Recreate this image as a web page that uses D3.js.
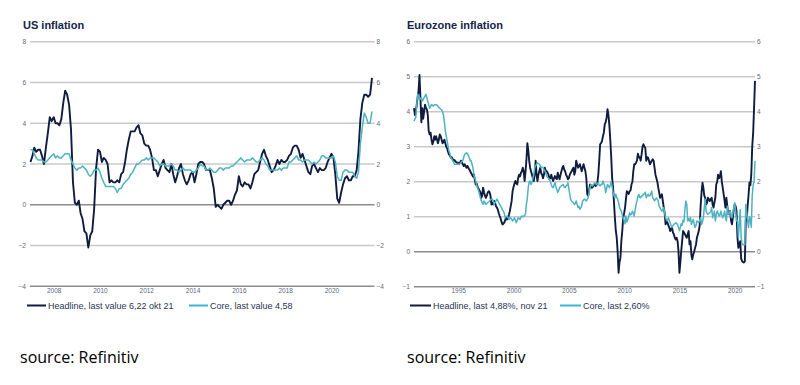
<!DOCTYPE html>
<html>
<head>
<meta charset="utf-8">
<script src="https://cdn.jsdelivr.net/npm/d3@7"></script>
<style>
  html, body { margin: 0; padding: 0; background: #fff; }
  svg { display: block; }
</style>
</head>
<body>
<svg id="chart" width="800" height="385"></svg>
<script>
// ---------------- DATA ----------------
// US CPI, monthly YoY %, Jan 2007 .. Oct 2021
const usStart = [2007, 0];
const usHeadline = [
  2.1, 2.4, 2.8, 2.6, 2.7, 2.7, 2.4, 2.0, 2.8, 3.5, 4.3, 4.1,
  4.3, 4.0, 4.0, 3.9, 4.2, 5.0, 5.6, 5.4, 4.9, 3.7, 1.1, 0.1,
  0.0, 0.2, -0.4, -0.7, -1.3, -1.4, -2.1, -1.5, -1.3, -0.2, 1.8, 2.7,
  2.6, 2.1, 2.3, 2.2, 2.0, 1.1, 1.2, 1.1, 1.1, 1.2, 1.1, 1.5,
  1.6, 2.1, 2.7, 3.2, 3.6, 3.6, 3.6, 3.8, 3.9, 3.5, 3.4, 3.0,
  2.9, 2.9, 2.7, 2.3, 1.7, 1.7, 1.4, 1.7, 2.0, 2.2, 1.8, 1.7,
  1.6, 2.0, 1.5, 1.1, 1.4, 1.8, 2.0, 1.5, 1.2, 1.0, 1.2, 1.5,
  1.6, 1.1, 1.5, 2.0, 2.1, 2.1, 2.0, 1.7, 1.7, 1.7, 1.3, 0.8,
  -0.1, 0.0, -0.1, -0.2, 0.0, 0.1, 0.2, 0.2, 0.0, 0.2, 0.5, 0.7,
  1.4, 1.0, 0.9, 1.1, 1.0, 1.0, 0.8, 1.1, 1.5, 1.6, 1.7, 2.1,
  2.5, 2.7, 2.4, 2.2, 1.9, 1.6, 1.7, 1.9, 2.2, 2.0, 2.2, 2.1,
  2.1, 2.2, 2.4, 2.5, 2.8, 2.9, 2.9, 2.7, 2.3, 2.5, 2.2, 1.9,
  1.6, 1.5, 1.9, 2.0, 1.8, 1.6, 1.8, 1.7, 1.7, 1.8, 2.1, 2.3,
  2.5, 2.3, 1.5, 0.3, 0.1, 0.6, 1.0, 1.3, 1.4, 1.2, 1.2, 1.4,
  1.4, 1.7, 2.6, 4.2, 5.0, 5.4, 5.4, 5.3, 5.4, 6.22
];
const usCore = [
  2.7, 2.7, 2.5, 2.3, 2.2, 2.2, 2.2, 2.1, 2.1, 2.2, 2.3, 2.4,
  2.5, 2.3, 2.4, 2.3, 2.3, 2.4, 2.5, 2.5, 2.5, 2.2, 2.0, 1.8,
  1.7, 1.8, 1.8, 1.9, 1.8, 1.7, 1.5, 1.4, 1.5, 1.7, 1.7, 1.8,
  1.6, 1.3, 1.1, 0.9, 0.9, 0.9, 0.9, 0.9, 0.8, 0.6, 0.8, 0.8,
  1.0, 1.1, 1.2, 1.3, 1.5, 1.6, 1.8, 2.0, 2.0, 2.1, 2.2, 2.2,
  2.3, 2.2, 2.3, 2.3, 2.3, 2.2, 2.1, 1.9, 2.0, 2.0, 1.9, 1.9,
  1.9, 2.0, 1.9, 1.7, 1.7, 1.6, 1.7, 1.8, 1.7, 1.7, 1.7, 1.7,
  1.6, 1.6, 1.7, 1.8, 2.0, 1.9, 1.9, 1.7, 1.7, 1.8, 1.7, 1.6,
  1.6, 1.7, 1.8, 1.8, 1.7, 1.8, 1.8, 1.8, 1.9, 1.9, 2.0, 2.1,
  2.2, 2.3, 2.2, 2.1, 2.2, 2.2, 2.2, 2.3, 2.2, 2.1, 2.1, 2.2,
  2.3, 2.2, 2.0, 1.9, 1.7, 1.7, 1.7, 1.7, 1.7, 1.8, 1.7, 1.8,
  1.8, 1.8, 2.1, 2.1, 2.2, 2.3, 2.4, 2.2, 2.2, 2.1, 2.2, 2.2,
  2.2, 2.1, 2.0, 2.1, 2.0, 2.1, 2.2, 2.4, 2.4, 2.3, 2.3, 2.3,
  2.3, 2.4, 2.1, 1.4, 1.2, 1.2, 1.6, 1.7, 1.7, 1.6, 1.6, 1.6,
  1.4, 1.3, 1.6, 3.0, 3.8, 4.5, 4.3, 4.0, 4.0, 4.58
];
const usYTicks = [-4, -2, 0, 2, 4, 6, 8];
const usXTicks = [2008, 2010, 2012, 2014, 2016, 2018, 2020];

// Eurozone HICP, monthly YoY %, Jan 1991 .. Nov 2021
const ezStart = [1991, 0];
const ezHeadline = [
  4.1, 3.9, 4.0, 4.2, 4.4, 4.6, 5.05, 4.4, 3.7, 4.1, 3.8, 4.0,
  4.2, 4.1, 4.07, 3.9, 3.45, 3.35, 3.4, 3.2, 3.07, 3.15, 3.3, 3.2,
  3.3, 3.2, 3.1, 3.2, 3.35, 3.3, 3.2, 3.1, 3.15, 3.2, 3.1, 3.0,
  2.95, 2.85, 2.78, 2.75, 2.69, 2.7, 2.65, 2.6, 2.62, 2.58, 2.55, 2.54,
  2.54, 2.5, 2.55, 2.6, 2.55, 2.5, 2.45, 2.5, 2.45, 2.4, 2.45, 2.4,
  2.35, 2.3, 2.25, 2.2, 2.15, 2.2, 2.05, 1.92, 1.95, 1.85, 1.8, 1.75,
  1.7, 1.54, 1.6, 1.83, 1.7, 1.6, 1.54, 1.6, 1.69, 1.73, 1.7, 1.6,
  1.35, 1.4, 1.35, 1.45, 1.4, 1.3, 1.26, 1.2, 1.1, 1.02, 0.95, 0.85,
  0.78, 0.8, 0.83, 0.9, 0.97, 0.92, 0.95, 1.05, 1.16, 1.3, 1.45, 1.73,
  1.85, 1.95, 2.02, 1.95, 1.92, 2.1, 2.2, 2.15, 2.25, 2.3, 2.4, 2.3,
  2.02, 2.3, 2.6, 3.1, 2.9, 2.6, 2.4, 2.3, 2.2, 2.1, 2.02, 2.2,
  2.6, 2.2, 2.02, 2.2, 2.3, 2.4, 2.25, 2.2, 2.1, 2.2, 2.4, 2.3,
  2.3, 2.25, 2.2, 2.07, 2.1, 2.2, 2.1, 2.02, 2.1, 2.16, 2.1, 2.07,
  2.26, 2.15, 2.07, 2.2, 2.3, 2.4, 2.45, 2.35, 2.3, 2.2, 2.15, 2.07,
  2.1, 2.2, 2.25, 2.3, 2.35, 2.4, 2.2, 2.3, 2.6, 2.5, 2.4, 2.45,
  2.5, 2.4, 2.3, 2.4, 2.5, 2.4, 2.3, 2.1, 1.64, 1.6, 1.75, 1.92,
  1.85, 1.83, 1.85, 1.9, 1.92, 1.88, 1.9, 1.97, 2.2, 2.6, 3.07, 3.1,
  3.16, 3.3, 3.4, 3.64, 3.7, 3.83, 4.07, 3.9, 3.6, 3.2, 2.69, 2.1,
  1.83, 1.4, 0.97, 0.6, 0.4, 0.0, -0.6, -0.3, -0.17, 0.3, 0.6, 0.97,
  1.1, 1.26, 1.5, 1.73, 1.69, 1.65, 1.73, 1.75, 1.92, 2.0, 2.3, 2.5,
  2.5, 2.55, 2.6, 2.8, 2.7, 2.7, 2.6, 2.78, 3.0, 3.07, 3.0, 2.97,
  2.6, 2.7, 2.69, 2.6, 2.5, 2.55, 2.6, 2.64, 2.6, 2.4, 2.2, 2.1,
  2.0, 1.83, 1.7, 1.54, 1.6, 1.64, 1.45, 1.26, 1.1, 0.78, 0.9, 0.83,
  0.75, 0.69, 0.59, 0.65, 0.69, 0.55, 0.5, 0.4, 0.35, 0.4, 0.3, 0.02,
  -0.6, -0.3, 0.02, 0.3, 0.59, 0.55, 0.5, 0.45, 0.4, 0.5, 0.59, 0.21,
  0.3, -0.1, -0.22, -0.08, 0.0, 0.11, 0.2, 0.4, 0.5, 0.59, 0.75, 1.3,
  1.7, 1.97, 1.83, 1.6, 1.54, 1.35, 1.4, 1.54, 1.5, 1.45, 1.5, 1.54,
  1.35, 1.26, 1.4, 1.54, 1.92, 2.0, 2.2, 2.1, 2.15, 2.3, 2.0, 1.83,
  1.64, 1.45, 1.26, 1.54, 1.3, 1.07, 1.1, 1.16, 0.9, 0.78, 0.97, 1.2,
  1.35, 1.3, 1.16, 0.4, 0.11, 0.21, 0.3, -0.2, -0.27, -0.3, -0.31, -0.27,
  0.9, 0.9, 1.3, 1.6, 1.97, 1.9, 2.2, 3.0, 3.4, 4.1, 4.88
];
const ezCore = [
  3.73, 3.8, 3.83, 4.2, 4.5, 4.45, 4.4, 4.35, 4.4, 4.3, 4.35, 4.4,
  4.45, 4.5, 4.4, 4.3, 4.2, 4.1, 4.15, 4.2, 4.18, 4.16, 4.2, 4.2,
  4.2, 4.18, 4.16, 4.12, 4.1, 4.07, 4.05, 4.0, 3.9, 3.7, 3.45, 3.3,
  3.16, 3.0, 2.88, 2.8, 2.69, 2.65, 2.6, 2.55, 2.5, 2.5, 2.5, 2.5,
  2.5, 2.5, 2.52, 2.55, 2.58, 2.6, 2.7, 2.78, 2.8, 2.83, 2.8, 2.75,
  2.69, 2.6, 2.6, 2.5, 2.4, 2.2, 2.1, 2.02, 1.9, 1.83, 1.75, 1.64,
  1.55, 1.45, 1.4, 1.35, 1.45, 1.4, 1.35, 1.38, 1.4, 1.42, 1.45, 1.48,
  1.5, 1.5, 1.45, 1.35, 1.4, 1.45, 1.5, 1.45, 1.4, 1.35, 1.3, 1.25,
  1.2, 1.16, 1.1, 0.97, 1.0, 1.02, 0.98, 0.92, 0.95, 0.97, 0.92, 0.88,
  0.92, 0.97, 0.9, 0.83, 0.9, 0.97, 0.95, 0.92, 0.98, 1.02, 1.0, 1.02,
  1.02, 1.1, 1.35, 1.54, 1.83, 2.0, 2.02, 1.92, 2.0, 2.1, 2.2, 2.4,
  2.45, 2.5, 2.54, 2.52, 2.5, 2.45, 2.4, 2.42, 2.4, 2.35, 2.3, 2.25,
  2.16, 2.12, 2.1, 2.07, 2.0, 1.92, 1.85, 1.83, 1.9, 1.97, 1.85, 1.78,
  1.69, 1.75, 1.83, 1.86, 1.88, 1.9, 1.92, 1.85, 1.83, 1.88, 1.9, 1.97,
  1.8, 1.64, 1.5, 1.45, 1.42, 1.4, 1.35, 1.38, 1.45, 1.35, 1.26, 1.3,
  1.21, 1.25, 1.3, 1.45, 1.48, 1.5, 1.48, 1.45, 1.5, 1.54, 1.7, 1.83,
  1.92, 1.9, 1.88, 1.92, 1.97, 1.95, 1.92, 1.95, 1.97, 1.9, 1.88, 1.92,
  1.92, 2.02, 1.95, 1.88, 1.69, 1.8, 1.92, 1.88, 1.83, 1.9, 2.02, 1.85,
  1.69, 1.6, 1.54, 1.64, 1.55, 1.5, 1.4, 1.26, 1.2, 1.16, 1.05, 0.97,
  0.88, 0.8, 1.02, 0.85, 0.92, 1.0, 1.11, 1.05, 1.07, 1.16, 1.1, 1.02,
  1.2, 1.35, 1.45, 1.59, 1.64, 1.55, 1.54, 1.6, 1.59, 1.65, 1.64, 1.7,
  1.54, 1.6, 1.64, 1.59, 1.6, 1.65, 1.73, 1.54, 1.5, 1.45, 1.5, 1.54,
  1.5, 1.45, 1.3, 1.26, 1.2, 1.16, 1.2, 1.26, 1.1, 0.97, 0.9, 0.88,
  0.97, 0.9, 0.83, 0.75, 0.69, 0.75, 0.78, 0.8, 0.83, 0.8, 0.78, 0.69,
  0.6, 0.7, 0.8, 0.75, 0.9, 0.85, 1.2, 1.45, 1.35, 0.88, 0.95, 0.88,
  0.97, 0.78, 0.85, 0.92, 0.8, 0.69, 0.75, 0.88, 0.85, 0.83, 0.9, 0.97,
  0.78, 0.85, 0.97, 1.26, 1.5, 1.16, 1.1, 1.07, 1.1, 1.11, 1.15, 1.26,
  0.97, 1.05, 1.16, 0.88, 1.05, 1.16, 1.1, 1.02, 1.05, 1.16, 1.05, 0.97,
  1.05, 1.16, 1.0, 0.88, 1.3, 1.07, 1.1, 1.16, 1.0, 0.97, 1.1, 1.26,
  1.4, 1.16, 0.88, 0.9, 0.4, 0.8, 1.2, 0.4, 0.21, 0.2, 0.21, 0.2,
  1.35, 1.1, 0.9, 0.69, 1.0, 0.9, 0.7, 1.6, 1.9, 2.0, 2.6
];
const ezYTicks = [-1, 0, 1, 2, 3, 4, 5, 6];
const ezXTicks = [1995, 2000, 2005, 2010, 2015, 2020];

const usTitle = "US inflation";
const ezTitle = "Eurozone inflation";
const usLegend = ["Headline, last value 6,22 okt 21", "Core, last value 4,58"];
const ezLegend = ["Headline, last 4,88%, nov 21", "Core, last 2,60%"];
const sourceText = "source: Refinitiv";

// ---------------- STYLE ----------------
const HEAD_COLOR = "#0e1c40";
const CORE_COLOR = "#4db3c3";
const GRID_COLOR = "#c9c9c9";
const ZERO_COLOR = "#8c8c8c";
const TICK_COLOR = "#5d677b";
const TITLE_COLOR = "#15254a";
const FONT = "'Liberation Sans', Arial, sans-serif";

const svg = d3.select("#chart");

function drawChart(cfg) {
  const g = svg.append("g");
  const dates = d3.range(cfg.headline.length).map(i => new Date(cfg.start[0], cfg.start[1] + i, 1));
  const x = d3.scaleTime().domain([dates[0], dates[dates.length - 1]]).range([cfg.x0, cfg.x1]);
  const y = d3.scaleLinear().domain([cfg.yTicks[0], cfg.yTicks[cfg.yTicks.length - 1]]).range([cfg.yBottom, cfg.yTop]);

  // title
  g.append("text").attr("x", cfg.titleX).attr("y", 29)
    .attr("font-family", FONT).attr("font-size", 11).attr("font-weight", "bold")
    .attr("fill", TITLE_COLOR).text(cfg.title);

  // gridlines
  const minT = cfg.yTicks[0];
  g.selectAll(".grid").data(cfg.yTicks).enter().append("line")
    .attr("x1", cfg.gx0).attr("x2", cfg.gx1)
    .attr("y1", d => y(d)).attr("y2", d => y(d))
    .attr("stroke", d => (d === 0 || d === minT) ? ZERO_COLOR : GRID_COLOR)
    .attr("stroke-width", 1.4);

  // left y axis labels
  const axL = d3.axisLeft(y).tickValues(cfg.yTicks).tickSize(0).tickPadding(0).tickFormat(d3.format("d"));
  const gl = g.append("g").attr("transform", `translate(${cfg.gx0 - 4},0)`).call(axL);
  const axR = d3.axisRight(y).tickValues(cfg.yTicks).tickSize(0).tickPadding(0).tickFormat(d3.format("d"));
  const gr = g.append("g").attr("transform", `translate(${cfg.gx1 + 2},0)`).call(axR);
  [gl, gr].forEach(a => {
    a.select(".domain").remove();
    a.selectAll("text").attr("font-family", FONT).attr("font-size", 6.5).attr("fill", TICK_COLOR);
  });

  // x axis labels
  const axB = d3.axisBottom(x).tickValues(cfg.xTicks.map(yr => new Date(yr, 0, 1)))
    .tickSize(0).tickPadding(0).tickFormat(d3.timeFormat("%Y"));
  const gb = g.append("g").attr("transform", `translate(0,${cfg.yBottom + 2})`).call(axB);
  gb.select(".domain").remove();
  gb.selectAll("text").attr("font-family", FONT).attr("font-size", 6.5).attr("fill", TICK_COLOR);

  const line = d3.line().x((d, i) => x(dates[i])).y(d => y(d)).curve(d3.curveLinear);
  g.append("path").attr("d", line(cfg.headline)).attr("fill", "none")
    .attr("stroke", HEAD_COLOR).attr("stroke-width", 1.9).attr("stroke-linejoin", "round");
  g.append("path").attr("d", line(cfg.core)).attr("fill", "none")
    .attr("stroke", CORE_COLOR).attr("stroke-width", 1.5).attr("stroke-linejoin", "round");

  // legend
  const ly = 305.5;
  cfg.legend.forEach((lab, i) => {
    const lx = cfg.legX[i];
    g.append("line").attr("x1", lx).attr("x2", lx + cfg.legLen).attr("y1", ly).attr("y2", ly)
      .attr("stroke", i === 0 ? HEAD_COLOR : "#3bb4d4").attr("stroke-width", 2);
    g.append("text").attr("x", lx + cfg.legLen + 2).attr("y", ly + 3.2)
      .attr("font-family", FONT).attr("font-size", 9).attr("fill", "#2a3552").text(lab);
  });

  // source
  g.append("text").attr("x", cfg.srcX).attr("y", 363)
    .attr("font-family", "'Open Sans', sans-serif").attr("font-size", 16).attr("fill", "#000")
    .text(sourceText);
}

drawChart({
  title: usTitle, titleX: 23, start: usStart, headline: usHeadline, core: usCore,
  yTicks: usYTicks, xTicks: usXTicks,
  x0: 30.5, x1: 372, gx0: 30, gx1: 374.5, yTop: 41.7, yBottom: 286.3,
  legend: usLegend, legX: [27, 189], legLen: 19, srcX: 20
});

drawChart({
  title: ezTitle, titleX: 407, start: ezStart, headline: ezHeadline, core: ezCore,
  yTicks: ezYTicks, xTicks: ezXTicks,
  x0: 414, x1: 755, gx0: 414, gx1: 755, yTop: 41.7, yBottom: 286.7,
  legend: ezLegend, legX: [410, 560], legLen: 21, srcX: 407
});
</script>
</body>
</html>
